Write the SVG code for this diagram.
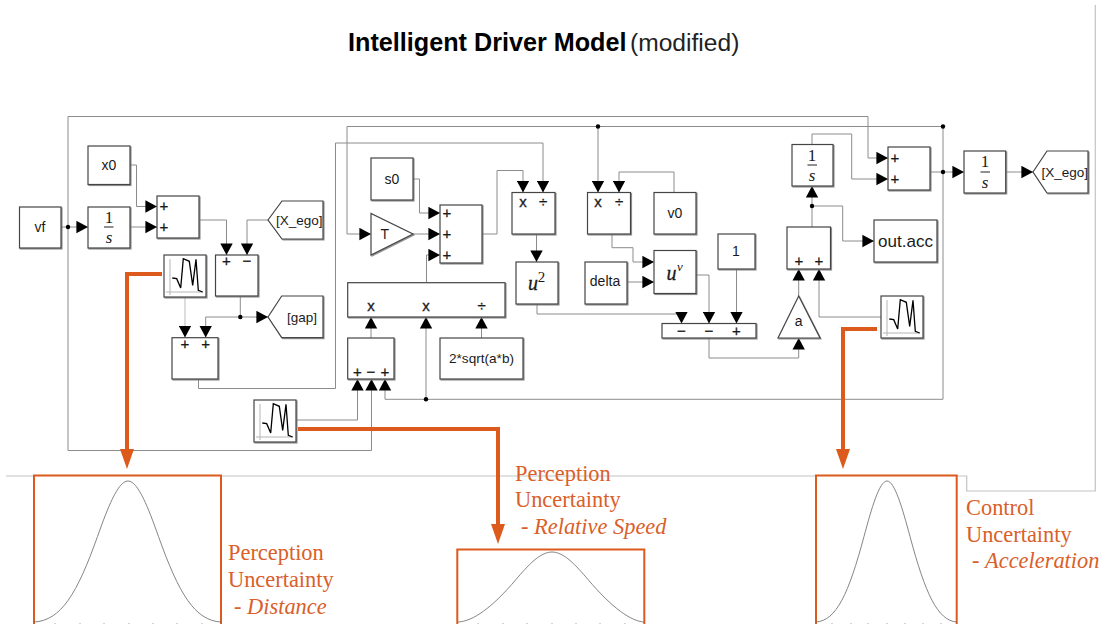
<svg xmlns="http://www.w3.org/2000/svg" width="1112" height="624" viewBox="0 0 1112 624">
<style>
text{font-family:"Liberation Sans",Arial,sans-serif;fill:#1a1a1a}
.b{fill:#fff;stroke:#444;stroke-width:1.2;filter:url(#sh)}
.l{font-size:14px;text-anchor:middle}
.s{font-size:15px;text-anchor:middle;stroke:#1a1a1a;stroke-width:.3}
.m{font-family:"Liberation Serif",serif;font-style:italic;text-anchor:middle;font-size:17px}
.n{font-style:normal}
.c{fill:none;stroke:#8c8c8c;stroke-width:1}
.a{marker-end:url(#ah)}
.j{fill:#000;stroke:none}
.o{fill:none;stroke:#dc5a1b;stroke-width:4;marker-end:url(#oh)}
.ob{fill:#fff;stroke:#dc5a1b;stroke-width:2}
.g{fill:none;stroke:#777;stroke-width:.9}
.t{stroke:#aaa;stroke-width:1}
.bg{fill:none;stroke:#c4c4c4;stroke-width:1.2}
.u{font-family:"Liberation Serif",serif;font-size:22.4px;fill:#d9602a}
.ui{font-style:italic}
</style>
<defs>
<filter id="sh" x="-10%" y="-10%" width="125%" height="125%"><feDropShadow dx="1" dy="1" stdDeviation="0.7" flood-color="#777" flood-opacity="0.8"/></filter>
<marker id="ah" markerUnits="userSpaceOnUse" markerWidth="12" markerHeight="13" refX="11.6" refY="6.5" orient="auto"><path d="M0,0.3 L11.6,6.5 L0,12.7z" fill="#000"/></marker>
<marker id="oh" markerUnits="userSpaceOnUse" markerWidth="21" markerHeight="15" refX="4" refY="7.5" orient="auto"><path d="M0,0.5 L20,7.5 L0,14.5z" fill="#dc5a1b"/></marker>
<g id="scopeIcon">
<rect class="b" width="42" height="42"/>
<path d="M6,4V40M2,37H39" fill="none" stroke="#b5b5b5" stroke-width="1"/>
<path d="M8.3,23L12.7,23.7L16.7,33L19.3,3.7L25.3,6.3L28.7,30.3L32,4.3L34.3,35.3L38.7,37" fill="none" stroke="#000" stroke-width="1.3"/>
</g>
</defs>
<rect width="1112" height="624" fill="#fff"/>
<g id="background">
<path class="bg" d="M6,476H966.7V491H1095.3V5"/>
</g>
<g id="title"><text x="348" y="51" font-size="25.2" font-weight="bold" style="fill:#000">Intelligent Driver Model</text><text x="630" y="51" font-size="24.6" style="fill:#222">(modified)</text></g>
<g id="connectors">
<path class="c a" d="M61,227H88"/>
<path class="c a" d="M68,227V116.5H868V158H888"/>
<path class="c a" d="M68,227V450.5H371.5V379"/>
<path class="c a" d="M130,165H136.5V206.5H157"/>
<path class="c a" d="M130,227H157"/>
<path class="c a" d="M199,220H226.5V255"/>
<path class="c a" d="M268,220H247V255"/>
<path class="c a" d="M185,296V337.5" style="stroke:#bbb"/>
<path class="c a" d="M240.3,296V317H268"/>
<path class="c a" d="M240.3,317H205.7V337.5"/>
<path class="c a" d="M198.5,379V388.5H335.5V143H543V192.5"/>
<path class="c a" d="M943,126.5H347V234H371"/>
<path class="c a" d="M598,126.5V192.5"/>
<path class="c a" d="M413,179H419.5V213H440"/>
<path class="c a" d="M413,234H440"/>
<path class="c a" d="M426.5,282.5V255H440"/>
<path class="c a" d="M482,234H497V170.5H523V192.5"/>
<path class="c a" d="M536.5,234V262"/>
<path class="c a" d="M674,192.5V172H619V192.5"/>
<path class="c a" d="M612,234V247.7H633V262H654"/>
<path class="c a" d="M627,282H654"/>
<path class="c a" d="M696,275H709V323.5"/>
<path class="c a" d="M736.5,269V323.5"/>
<path class="c a" d="M537,304V314H681.5V323.5"/>
<path class="c a" d="M709,338V358H798.7V338"/>
<path class="c a" d="M798.7,296V269"/>
<path class="c a" d="M881,317H819V269"/>
<path class="c a" d="M812,227V186"/>
<path class="c a" d="M812,206H842.7V241H874"/>
<path class="c a" d="M812,144.5V134H851.7V179H888"/>
<path class="c a" d="M930,172H964"/>
<path class="c a" d="M1005.7,172H1033"/>
<path class="c a" d="M943,126.5V399.3H385V379"/>
<path class="c a" d="M426,399.3V317"/>
<path class="c a" d="M371,338V317"/>
<path class="c a" d="M481.5,338V317"/>
<path class="c a" d="M296,420H357.5V379"/>
<circle class="j" cx="68" cy="227" r="2.2"/><circle class="j" cx="240.3" cy="317" r="2.2"/>
<circle class="j" cx="598" cy="126.5" r="2.2"/><circle class="j" cx="943" cy="126.5" r="2.2"/>
<circle class="j" cx="943" cy="172" r="2.2"/><circle class="j" cx="812" cy="206" r="2.2"/>
<circle class="j" cx="426" cy="399.3" r="2.2"/>
</g>
<g id="vf"><rect class="b" x="19.5" y="207" width="41.5" height="41"/><text class="l" x="40" y="232">vf</text></g>
<g id="int1"><rect class="b" x="88" y="207" width="42" height="41"/><text class="m n" x="109" y="222.7">1</text><path d="M104,227H113.5" stroke="#222"/><text class="m" x="109" y="242.7">s</text></g>
<g id="x0"><rect class="b" x="88" y="146" width="42" height="38.5"/><text class="l" x="109" y="170">x0</text></g>
<g id="sum1"><rect class="b" x="157" y="196" width="42" height="42"/><text class="s" x="164" y="211">+</text><text class="s" x="164" y="232">+</text></g>
<g id="sum2"><rect class="b" x="215.5" y="255" width="42.5" height="41"/><text class="s" x="226.5" y="266">+</text><text class="s" x="247" y="266">−</text></g>
<g id="goto-x-ego-1"><path class="b" d="M268,220L282,201H323V239H282Z"/><text x="276" y="225" font-size="13.5">[X_ego]</text></g>
<g id="scope1"><use href="#scopeIcon" x="164" y="255"/></g>
<g id="goto-gap"><path class="b" d="M268,317L281.7,296H323V337.7H281.7Z"/><text x="287" y="322" font-size="13.5">[gap]</text></g>
<g id="sum8"><rect class="b" x="172" y="337.7" width="46" height="41.3"/><text class="s" x="185" y="349">+</text><text class="s" x="205.7" y="349">+</text></g>
<g id="s0"><rect class="b" x="371" y="158" width="42" height="42"/><text class="l" x="392" y="184">s0</text></g>
<g id="T"><path class="b" d="M371,213.5V255L413,234Z"/><text class="l" x="384.7" y="239">T</text></g>
<g id="sum3"><rect class="b" x="440" y="205" width="42" height="58"/><text class="s" x="447" y="218">+</text><text class="s" x="447" y="239">+</text><text class="s" x="447" y="260">+</text></g>
<g id="div1"><rect class="b" x="512" y="192.5" width="43" height="41.5"/><text class="s" x="523" y="207">x</text><text class="s" x="543" y="207">÷</text></g>
<g id="pow2"><rect class="b" x="516" y="262" width="42" height="42"/><text class="m" x="533" y="290" style="font-size:20px;stroke:#1a1a1a;stroke-width:.3">u</text><text class="m n" x="541.5" y="282" style="font-size:15px">2</text></g>
<g id="div2"><rect class="b" x="587.5" y="192.5" width="43" height="41.5"/><text class="s" x="598" y="207">x</text><text class="s" x="619" y="207">÷</text></g>
<g id="v0"><rect class="b" x="654" y="192.5" width="42" height="41.5"/><text class="l" x="675" y="218">v0</text></g>
<g id="delta"><rect class="b" x="585" y="262" width="42" height="42"/><text class="l" x="605" y="286">delta</text></g>
<g id="powv"><rect class="b" x="654" y="250.5" width="42" height="43"/><text class="m" x="671.5" y="280" style="font-size:20px;stroke:#1a1a1a;stroke-width:.3">u</text><text class="m" x="680" y="271" style="font-size:13px">v</text></g>
<g id="one"><rect class="b" x="718" y="234" width="37" height="35"/><text class="l" x="736" y="256">1</text></g>
<g id="sum4"><rect class="b" x="662" y="323.5" width="94" height="14.5"/><text class="s" x="681.5" y="336">−</text><text class="s" x="709" y="336">−</text><text class="s" x="736.5" y="336">+</text></g>
<g id="gain-a"><path class="b" d="M798.7,296L778,338H820Z"/><text class="l" x="798.7" y="326">a</text></g>
<g id="sum5"><rect class="b" x="787" y="227" width="43.5" height="42"/><text class="s" x="799" y="266">+</text><text class="s" x="819" y="266">+</text></g>
<g id="int2"><rect class="b" x="792" y="144.5" width="41" height="41.5"/><text class="m n" x="812" y="160.5">1</text><path d="M807.5,165H817" stroke="#222"/><text class="m" x="812" y="180.5">s</text></g>
<g id="out-acc"><rect class="b" x="874" y="220" width="63" height="42"/><text class="l" x="905.5" y="247" style="font-size:17px">out.acc</text></g>
<g id="sum6"><rect class="b" x="888" y="147" width="42" height="43"/><text class="s" x="895" y="163">+</text><text class="s" x="895" y="184">+</text></g>
<g id="int3"><rect class="b" x="964" y="151" width="41.7" height="42"/><text class="m n" x="985" y="167">1</text><path d="M980.5,172H990" stroke="#222"/><text class="m" x="985" y="187.5">s</text></g>
<g id="goto-x-ego-2"><path class="b" d="M1033,172L1047,151H1088V193H1047Z"/><text x="1041.5" y="177" font-size="13.5">[X_ego]</text></g>
<g id="scope3"><use href="#scopeIcon" x="881" y="296"/></g>
<g id="product"><rect class="b" x="347.7" y="282.7" width="157.3" height="34.3"/><text class="s" x="371" y="311">x</text><text class="s" x="426" y="311">x</text><text class="s" x="481.5" y="311">÷</text></g>
<g id="sum7"><rect class="b" x="347.7" y="338" width="46.3" height="41"/><text class="s" x="357.5" y="377">+</text><text class="s" x="371" y="377">−</text><text class="s" x="385" y="377">+</text></g>
<g id="sqrt"><rect class="b" x="440" y="338" width="83" height="41"/><text class="l" x="481.5" y="363" style="font-size:13.6px">2*sqrt(a*b)</text></g>
<g id="scope2"><use href="#scopeIcon" x="254" y="400"/></g>
<g id="orange-connectors">
<path class="o" d="M162,274H127V453"/>
<path class="o" d="M298,429H498V528"/>
<path class="o" d="M877,329H843V453"/>
</g>
<g id="dist1"><rect class="ob" x="34" y="475.5" width="187" height="160"/><path class="g" d="M34,622C61,620.6 77.1,593.8 97.5,536.5C107.6,508.2 117.9,481 128,481C138.1,481 148.4,508.2 158.5,536.5C178.9,593.8 194.9,620.6 221,622"/><path class="t" d="M55,623v1M80,623v1M104,623v1M129,623v1M153,623v1M177,623v1M202,623v1"/></g>
<g id="dist2"><rect class="ob" x="457.3" y="549.5" width="187" height="90"/><path class="g" d="M458,622C472.8,621.3 491.9,608 516,579.5C527.9,565.5 540.1,552 552,552C563.9,552 576.1,565.5 588,579.5C612.1,608 631.2,621.3 644,622"/><path class="t" d="M478,623v1M503,623v1M527,623v1M552,623v1M576,623v1M600,623v1M625,623v1"/></g>
<g id="dist3"><rect class="ob" x="816" y="475.5" width="140.7" height="160"/><path class="g" d="M816,622C836.4,620.6 848.6,593.8 864,536.5C871.6,508.2 879.4,481 887,481C894.6,481 902.4,508.2 910,536.5C925.4,593.8 937.6,620.6 956.7,622"/><path class="t" d="M832,623v1M851,623v1M868,623v1M887,623v1M905,623v1M923,623v1M941,623v1"/></g>
<g id="labels">
<text class="u" x="228" y="560">Perception</text><text class="u" x="228" y="587">Uncertainty</text><text class="u" x="234" y="614">- <tspan class="ui">Distance</tspan></text>
<text class="u" x="515" y="481">Perception</text><text class="u" x="515" y="507">Uncertainty</text><text class="u" x="521" y="534">- <tspan class="ui">Relative Speed</tspan></text>
<text class="u" x="966" y="515">Control</text><text class="u" x="966" y="542">Uncertainty</text><text class="u" x="972" y="568">- <tspan class="ui">Acceleration</tspan></text>
</g>
</svg>
